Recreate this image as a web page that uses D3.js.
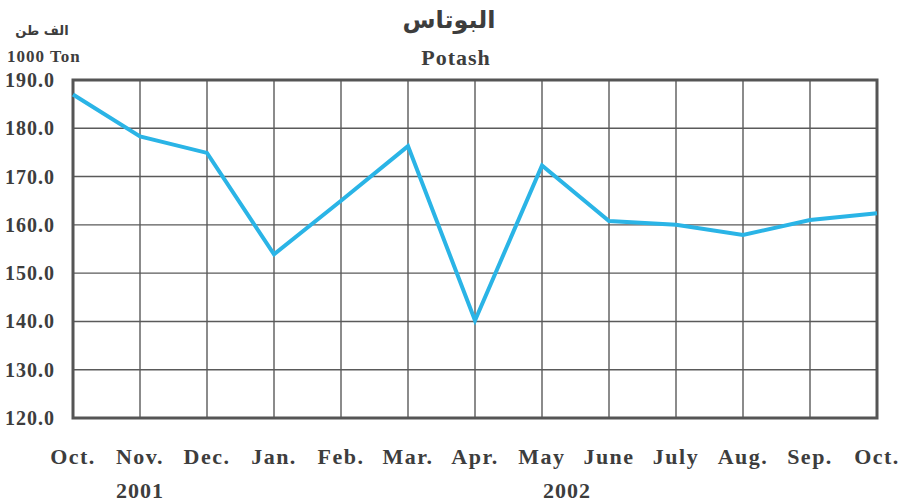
<!DOCTYPE html>
<html>
<head>
<meta charset="utf-8">
<script src="https://cdn.jsdelivr.net/npm/d3@7"></script>
<style>
  body { margin: 0; background: #fff; }
  text { font-family: 'Liberation Serif', 'Times New Roman', serif; fill: #3d3d3d; }
</style>
</head>
<body>
<div id="chart"></div>
<script>
const months = ['Oct.', 'Nov.', 'Dec.', 'Jan.', 'Feb.', 'Mar.', 'Apr.', 'May', 'June', 'July', 'Aug.', 'Sep.', 'Oct.']
const values = [187, 178.3, 174.9, 153.9, 165, 176.3, 140.2, 172.3, 160.8, 160, 157.9, 161, 162.4]
const yTicks = [120, 130, 140, 150, 160, 170, 180, 190]
const years = [{ label: '2001', at: 1, shift: 0 }, { label: '2002', at: 7, shift: 25 }]

const margin = { top: 80, left: 73, right: 28, bottom: 85 }
const width = 905 - margin.left - margin.right
const height = 503 - margin.top - margin.bottom

const svg = d3
  .select('#chart')
  .append('svg')
  .attr('width', 905)
  .attr('height', 503)

const g = svg.append('g').attr('transform', `translate(${margin.left},${margin.top})`)

const x = d3.scalePoint().domain(d3.range(months.length)).range([0, width])
const y = d3.scaleLinear().domain([120, 190]).range([height, 0])

// grid
g.selectAll('.hgrid')
  .data(yTicks)
  .enter()
  .append('line')
  .attr('x1', 0)
  .attr('x2', width)
  .attr('y1', d => y(d))
  .attr('y2', d => y(d))
  .attr('stroke', '#5a5a5a')
  .attr('stroke-width', 1.4)

g.selectAll('.vgrid')
  .data(d3.range(months.length))
  .enter()
  .append('line')
  .attr('x1', d => x(d))
  .attr('x2', d => x(d))
  .attr('y1', 0)
  .attr('y2', height)
  .attr('stroke', '#5a5a5a')
  .attr('stroke-width', 1.4)

g.append('rect')
  .attr('width', width)
  .attr('height', height)
  .attr('fill', 'none')
  .attr('stroke', '#555')
  .attr('stroke-width', 3)

// line
const line = d3
  .line()
  .x((d, i) => x(i))
  .y(d => y(d))

g.append('path')
  .datum(values)
  .attr('d', line)
  .attr('fill', 'none')
  .attr('stroke', '#2ab4e6')
  .attr('stroke-width', 4)

// y labels
g.selectAll('.ylab')
  .data(yTicks)
  .enter()
  .append('text')
  .attr('x', -18)
  .attr('y', d => y(d) + 7)
  .attr('text-anchor', 'end')
  .style('font-size', '20px')
  .style('font-weight', 'bold')
  .style('letter-spacing', '1px')
  .text(d => d.toFixed(1))

// x labels
g.selectAll('.xlab')
  .data(months)
  .enter()
  .append('text')
  .attr('x', (d, i) => x(i))
  .attr('y', height + 46)
  .attr('text-anchor', 'middle')
  .style('font-size', '22px')
  .style('font-weight', 'bold')
  .style('letter-spacing', '1.5px')
  .text(d => d)

g.selectAll('.year')
  .data(years)
  .enter()
  .append('text')
  .attr('x', d => x(d.at) + d.shift)
  .attr('y', height + 80)
  .attr('text-anchor', 'middle')
  .style('font-size', '22px')
  .style('font-weight', 'bold')
  .style('letter-spacing', '1px')
  .text(d => d.label)

// titles
svg.append('text')
  .attr('x', 449)
  .attr('y', 28)
  .attr('text-anchor', 'middle')
  .style('font-family', "'DejaVu Sans', sans-serif")
  .style('font-size', '24px')
  .style('font-weight', 'bold')
  .text('البوتاس')

svg.append('text')
  .attr('x', 456)
  .attr('y', 65)
  .attr('text-anchor', 'middle')
  .style('font-size', '22px')
  .style('font-weight', 'bold')
  .style('letter-spacing', '1px')
  .text('Potash')

svg.append('text')
  .attr('x', 42)
  .attr('y', 35)
  .attr('text-anchor', 'middle')
  .style('font-family', "'DejaVu Sans', sans-serif")
  .style('font-size', '13px')
  .style('font-weight', 'bold')
  .text('الف طن')

svg.append('text')
  .attr('x', 7)
  .attr('y', 62)
  .style('font-size', '17px')
  .style('font-weight', 'bold')
  .style('letter-spacing', '1px')
  .text('1000 Ton')
</script>
</body>
</html>
